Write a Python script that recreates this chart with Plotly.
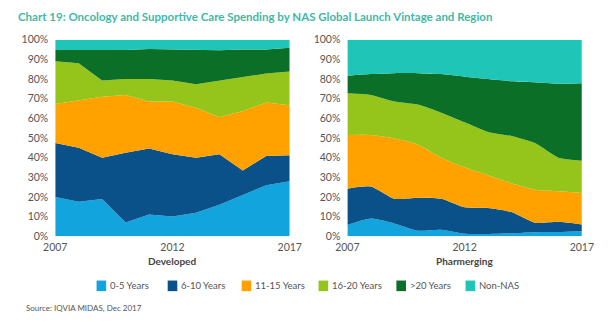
import plotly.graph_objects as go

years = list(range(2007, 2018))
series_names = ["0-5 Years", "6-10 Years", "11-15 Years", "16-20 Years", ">20 Years", "Non-NAS"]
colors = ["#12a5dd", "#0a5089", "#ffa200", "#95c51b", "#0c6f27", "#1fc5b7"]

# Developed shares (%), segment values
dev_0_5 = [20, 17.5, 19, 7, 11, 10, 12, 16, 21, 26, 28]
dev_6_10 = [27.4, 27.5, 21, 35.5, 33.6, 31.7, 28, 25.7, 12.5, 14.8, 13.2]
dev_11_15 = [19.9, 24.1, 31, 29.4, 24, 26.9, 25.4, 18.8, 30.2, 27.3, 25.5]
dev_16_20 = [21.7, 18.9, 8.2, 8.1, 11.4, 10.6, 11.9, 18.7, 17.5, 14.7, 17.1]
dev_gt20 = [5.8, 6.8, 15.6, 14.8, 15.3, 15.9, 17.3, 15.4, 13.8, 12.2, 12.1]
dev_nonnas = [5.2, 5.2, 5.2, 5.2, 4.7, 4.9, 5.4, 5.4, 5.0, 5.0, 4.1]

# Pharmerging shares (%), segment values
ph_0_5 = [5.7, 9, 6.5, 2.8, 3.3, 1.3, 1.1, 1.5, 2, 2.1, 2.5]
ph_6_10 = [18.5, 16.3, 12.6, 16.8, 15.8, 13.4, 13.3, 10.8, 4.9, 5.3, 3.5]
ph_11_15 = [27.3, 26.2, 30.7, 27, 20.9, 20.4, 16.6, 14.7, 16.8, 15.5, 16]
ph_16_20 = [21.2, 20.4, 18.8, 20.4, 22.9, 22.9, 22.1, 24, 23.7, 17.1, 16.4]
ph_gt20 = [9, 10.6, 14.4, 16, 19.6, 23.2, 26.9, 27.9, 31, 37.6, 39.5]
ph_nonnas = [18.3, 17.5, 17, 17, 17.5, 18.8, 20, 21.1, 21.6, 22.4, 22.1]

dev = [dev_0_5, dev_6_10, dev_11_15, dev_16_20, dev_gt20, dev_nonnas]
ph = [ph_0_5, ph_6_10, ph_11_15, ph_16_20, ph_gt20, ph_nonnas]

W, H = 615, 327
def px(x): return x / W
def py(y): return 1 - y / H

fig = go.Figure()
for name, col, vals in zip(series_names, colors, dev):
    fig.add_trace(go.Scatter(x=years, y=vals, stackgroup="dev", name=name,
                             mode="lines", line=dict(width=0, color=col),
                             fillcolor=col, showlegend=False, xaxis="x", yaxis="y"))
for name, col, vals in zip(series_names, colors, ph):
    fig.add_trace(go.Scatter(x=years, y=vals, stackgroup="ph", name=name,
                             mode="lines", line=dict(width=0, color=col, shape="spline", smoothing=0.6),
                             fillcolor=col, showlegend=False, xaxis="x2", yaxis="y2"))

tickfont = dict(family="Lato", size=10.5, color="#555555")
xcommon = dict(range=[2007, 2017], tickvals=[2007, 2012, 2017], showgrid=False,
               zeroline=False, showline=False, tickfont=tickfont, ticks="",
               ticklabelstandoff=3)
ycommon = dict(range=[0, 100], dtick=10, ticksuffix="%", showgrid=False,
               zeroline=False, showline=False, tickfont=tickfont, ticks="",
               ticklabelstandoff=6)

fig.update_layout(
    width=W, height=H,
    margin=dict(l=0, r=0, t=0, b=0),
    paper_bgcolor="white", plot_bgcolor="white",
    font=dict(family="Lato", color="#555555"),
    xaxis=dict(domain=[px(45), px(289)], anchor="y", **xcommon),
    yaxis=dict(domain=[py(239), py(35)], anchor="x", **ycommon),
    xaxis2=dict(domain=[px(349), px(593)], anchor="y2", **xcommon),
    yaxis2=dict(domain=[py(239), py(35)], anchor="x2", **ycommon),
)

annotations = [
    dict(text="<b>Chart 19: Oncology and Supportive Care Spending by NAS Global Launch Vintage and Region</b>",
         x=px(4), y=py(11), xanchor="left", yanchor="middle",
         font=dict(family="Lato", size=11.5, color="#3fb8a8")),
    dict(text="<b>Developed</b>", x=px(167), y=py(264.5), xanchor="center", yanchor="middle",
         font=dict(family="Lato", size=10, color="#444444")),
    dict(text="<b>Pharmerging</b>", x=px(471), y=py(264.5), xanchor="center", yanchor="middle",
         font=dict(family="Lato", size=10, color="#444444")),
    dict(text="Source: IQVIA MIDAS, Dec 2017", x=px(12), y=py(313), xanchor="left", yanchor="middle",
         font=dict(family="Lato", size=8, color="#555555")),
]
shapes = []
legend_x = [88, 162, 239, 319, 400, 472]
for name, col, lx in zip(series_names, colors, legend_x):
    shapes.append(dict(type="rect", xref="paper", yref="paper",
                       x0=px(lx), x1=px(lx + 10), y0=py(296), y1=py(285),
                       fillcolor=col, line=dict(width=0)))
    annotations.append(dict(text=name, x=px(lx + 12), y=py(290.5), xanchor="left", yanchor="middle",
                            font=dict(family="Lato", size=9.5, color="#555555")))
for a in annotations:
    a.update(xref="paper", yref="paper", showarrow=False)
fig.update_layout(annotations=annotations, shapes=shapes)

fig.write_html("out.html")
